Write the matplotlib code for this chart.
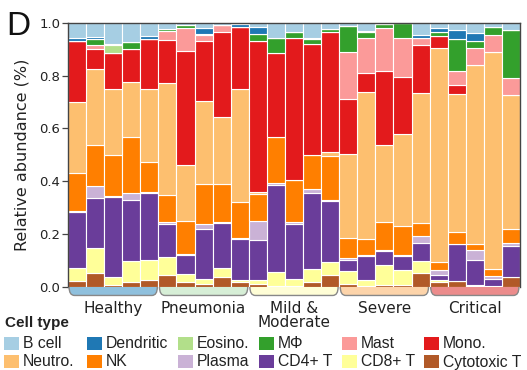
import matplotlib
matplotlib.use("Agg")
import matplotlib.pyplot as plt
from matplotlib.path import Path
from matplotlib.patches import PathPatch, Rectangle
import numpy as np

# ---------------- data ----------------
groups = ["Healthy", "Pneumonia", "Mild &\nModerate", "Severe", "Critical"]
bars_per_group = 5

cell_types = ["B cell", "Dendritic", "Eosino.", "M\u03a6", "Mast", "Mono.",
              "Neutro.", "NK", "Plasma", "CD4+ T", "CD8+ T", "Cytotoxic T"]
colors = ["#a6cee3", "#1f78b4", "#b2df8a", "#33a02c", "#fb9a99", "#e31a1c",
          "#fdbf6f", "#ff7f00", "#cab2d6", "#6a3d9a", "#ffff99", "#b15928"]

cytotoxic = [.021, .054, .006, .019, .025, .044, .019, .013, .038, .019, .013, .003, .004, .019, .044,
             .010, .003, .006, .006, .053, .019, .021, .003, .003, .038]
cd8 = [.052, .095, .032, .079, .079, .070, .029, .019, .034, .009, .015, .054, .028, .050, .051,
       .051, .025, .076, .057, .045, .006, 0, .003, 0, 0]
cd4 = [.210, .186, .303, .233, .252, .126, .072, .189, .170, .155, .151, .328, .208, .287, .230,
       .043, .088, .054, .053, .070, .019, .141, .095, .029, .116]
plasma = [.005, .046, .005, .023, .004, .005, .004, .016, .004, .004, .070, .009, .006, .016, .003,
          .006, .005, .005, .005, .024, .022, .002, .038, .008, .014]
nk = [.145, .158, .153, .214, .113, .102, .125, .154, .145, .135, .102, .174, .158, .127, .168,
      .077, .060, .105, .109, .050, .029, .044, .025, .029, .053]
neutro = [.268, .285, .252, .209, .278, .423, .212, .314, .253, .429, .008, 0, 0, 0, .013,
          .316, .555, .293, .347, .493, .808, .522, .676, .819, .505]
mono = [.231, .075, .135, .122, .187, .164, .433, .227, .319, .231, .572, .316, .537, .419, .457,
        .208, .075, .279, .218, .180, .046, .034, 0, 0, 0]
mast = [0, .016, 0, 0, 0, .034, .087, .023, .028, 0, 0, 0, 0, 0, 0,
        .179, .130, .163, .146, .028, 0, .053, .065, .065, .066]
mphi = [0, .022, 0, .028, 0, .009, .009, .002, 0, 0, .026, .057, .025, .019, .010,
        .099, .025, .014, .059, 0, .017, .121, .026, .032, .180]
eosino = [0, 0, .028, 0, 0, 0, 0, 0, 0, 0, 0, 0, 0, 0, 0,
          0, 0, 0, 0, 0, 0, 0, 0, 0, 0]
dendritic = [.009, .010, .006, 0, .011, 0, 0, .022, 0, .013, .025, 0, 0, .004, 0,
             0, .004, 0, 0, .010, .015, .034, .029, 0, 0]
bcell = [.059, .053, .080, .073, .051, .023, .010, .021, .009, .005, .018, .059, .034, .059, .024,
         .011, .030, .005, 0, .047, .019, .028, .040, .015, .028]

values = [bcell, dendritic, eosino, mphi, mast, mono, neutro, nk, plasma, cd4, cd8, cytotoxic]
group_colors = ["#8fc0dd", "#d6eed6", "#fffed6", "#fdd4aa", "#ec8c8c"]

# ---------------- figure ----------------
W, H = 527, 370
fig = plt.figure(figsize=(W / 100, H / 100), dpi=100)
ax = fig.add_axes([68 / W, 1 - 287 / H, (520 - 68) / W, (287 - 22.7) / H])

mat = np.array(values, dtype=float)
mat = mat / mat.sum(axis=0, keepdims=True)
n = mat.shape[1]
x = np.arange(n)
bottom = np.zeros(n)
# stack from bottom (Cytotoxic T) to top (B cell)
for i in range(len(cell_types) - 1, -1, -1):
    ax.bar(x, mat[i], bottom=bottom, width=1.0, color=colors[i],
           edgecolor="white", linewidth=0.8)
    bottom += mat[i]

ax.set_xlim(-0.5, n - 0.5)
ax.set_ylim(0, 1)
ax.set_xticks([])
yt = np.arange(0, 1.01, 0.2)
ax.set_yticks(yt)
ax.set_yticklabels([f"{v:.1f}" for v in yt], family="DejaVu Sans")
ax.tick_params(axis="y", length=4, width=0.9, color="#444", labelsize=9.5,
               pad=1.5, labelcolor="#222")
for s in ["left", "top", "right"]:
    ax.spines[s].set_color("#444")
    ax.spines[s].set_linewidth(1.0)
ax.spines["bottom"].set_visible(False)
ax.set_ylabel("Relative abundance (%)", fontsize=11.5, family="DejaVu Sans",
              color="#222", labelpad=7)

# group brackets
h = 0.032
r = 0.3
for g, (name, gc) in enumerate(zip(groups, group_colors)):
    x0 = g * bars_per_group - 0.5 + 0.06
    x1 = (g + 1) * bars_per_group - 0.5 - 0.06
    verts = [(x0, 0), (x0, -h), (x0 + r, -h), (x1 - r, -h), (x1, -h), (x1, 0)]
    codes = [Path.MOVETO, Path.CURVE3, Path.CURVE3, Path.LINETO, Path.CURVE3, Path.CURVE3]
    fill = PathPatch(Path(verts + [(x0, 0)], codes + [Path.CLOSEPOLY]),
                     facecolor=gc, edgecolor="none", clip_on=False, zorder=3)
    ax.add_patch(fill)
    line = PathPatch(Path(verts, codes), facecolor="none", edgecolor="#888",
                     linewidth=1.0, clip_on=False, zorder=4)
    ax.add_patch(line)
    ax.text((x0 + x1) / 2, -0.052, name, ha="center", va="top", fontsize=11,
            family="DejaVu Sans", color="#222", linespacing=0.95, clip_on=False)

# panel label
fig.text(6 / W, 1 - 35 / H, "D", fontsize=24, family="Liberation Sans",
         va="baseline", ha="left", color="#111")

# legend (manual)
fig.text(5 / W, 1 - 327 / H, "Cell type", fontsize=11, fontweight="bold",
         family="Liberation Sans", va="baseline", ha="left", color="#222")
col_x = [4, 87, 178, 259, 342, 424]
row_top = [337, 355]
row_base = [348.5, 366.5]
for k, (name, c) in enumerate(zip(cell_types, colors)):
    row, col = divmod(k, 6)
    sx = col_x[col]
    fig.patches.append(Rectangle((sx / W, 1 - (row_top[row] + 12.5) / H), 15 / W, 12.5 / H,
                                 transform=fig.transFigure, facecolor=c, edgecolor="none"))
    fig.text((sx + 19) / W, 1 - row_base[row] / H, name, fontsize=11.3,
             family="Liberation Sans", va="baseline", ha="left", color="#222")

fig.savefig("out.png", dpi=100)
